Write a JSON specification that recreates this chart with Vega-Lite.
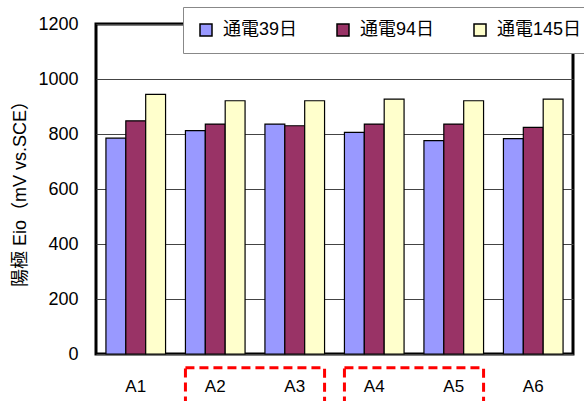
{
  "$schema": "https://vega.github.io/schema/vega-lite/v6.json",
  "width": 477,
  "height": 330,
  "autosize": {"type": "none"},
  "padding": {"left": 96, "top": 24, "right": 11, "bottom": 47},
  "background": "white",
  "config": {
    "font": "Liberation Sans, Noto Sans CJK JP, sans-serif",
    "view": {"stroke": "black", "strokeWidth": 3},
    "axis": {"labelColor": "black", "titleColor": "black", "gridColor": "#444444"},
    "legend": {"labelColor": "black"}
  },
  "datasets": {
    "eio": [
      {"site": "A1", "period": "通電39日", "value": 785},
      {"site": "A1", "period": "通電94日", "value": 848},
      {"site": "A1", "period": "通電145日", "value": 944},
      {"site": "A2", "period": "通電39日", "value": 812},
      {"site": "A2", "period": "通電94日", "value": 836},
      {"site": "A2", "period": "通電145日", "value": 921},
      {"site": "A3", "period": "通電39日", "value": 836},
      {"site": "A3", "period": "通電94日", "value": 830},
      {"site": "A3", "period": "通電145日", "value": 921},
      {"site": "A4", "period": "通電39日", "value": 806},
      {"site": "A4", "period": "通電94日", "value": 836},
      {"site": "A4", "period": "通電145日", "value": 927},
      {"site": "A5", "period": "通電39日", "value": 776},
      {"site": "A5", "period": "通電94日", "value": 836},
      {"site": "A5", "period": "通電145日", "value": 921},
      {"site": "A6", "period": "通電39日", "value": 783},
      {"site": "A6", "period": "通電94日", "value": 824},
      {"site": "A6", "period": "通電145日", "value": 927}
    ],
    "groups": [
      {"from": "A2", "to": "A3", "top": -50, "bottom": -300},
      {"from": "A4", "to": "A5", "top": -50, "bottom": -300}
    ]
  },
  "layer": [
    {
      "data": {"name": "eio"},
      "mark": {"type": "bar", "stroke": "black", "strokeWidth": 1.2},
      "encoding": {
        "x": {
          "field": "site",
          "type": "nominal",
          "scale": {"paddingInner": 0.25, "paddingOuter": 0.125},
          "axis": {
            "title": null,
            "domain": false,
            "grid": false,
            "labelAngle": 0,
            "labelFontSize": 17,
            "labelPadding": 24,
            "ticks": false
          }
        },
        "xOffset": {
          "field": "period",
          "type": "nominal",
          "sort": null
        },
        "y": {
          "field": "value",
          "type": "quantitative",
          "scale": {"domain": [0, 1200], "nice": false},
          "axis": {
            "title": "陽極 Eio（mV vs.SCE）",
            "titleFontSize": 18,
            "titleFontWeight": "normal",
            "titlePadding": 8,
            "values": [0, 200, 400, 600, 800, 1000, 1200],
            "format": "d",
            "labelFontSize": 18,
            "labelPadding": 18,
            "domain": false,
            "ticks": false,
            "grid": true
          }
        },
        "fill": {
          "field": "period",
          "type": "nominal",
          "sort": null,
          "scale": {
            "domain": ["通電39日", "通電94日", "通電145日"],
            "range": ["#9999FF", "#993366", "#FFFFCC"]
          },
          "legend": {
            "title": null,
            "orient": "none",
            "legendX": 87,
            "legendY": -17,
            "direction": "horizontal",
            "padding": 14,
            "columnPadding": 36,
            "labelOffset": 8,
            "labelFontSize": 18,
            "symbolType": "square",
            "symbolSize": 144,
            "symbolStrokeColor": "black",
            "fillColor": "white",
            "strokeColor": "#888888"
          }
        }
      }
    },
    {
      "data": {"name": "groups"},
      "mark": {
        "type": "rect",
        "filled": false,
        "stroke": "#FF0000",
        "strokeWidth": 3,
        "strokeDash": [9, 5],
        "x2Offset": {"expr": "bandwidth('x') / 2"}
      },
      "encoding": {
        "x": {"field": "from", "type": "nominal", "bandPosition": 0},
        "x2": {"field": "to"},
        "y": {"field": "top", "type": "quantitative"},
        "y2": {"field": "bottom"}
      }
    }
  ]
}
